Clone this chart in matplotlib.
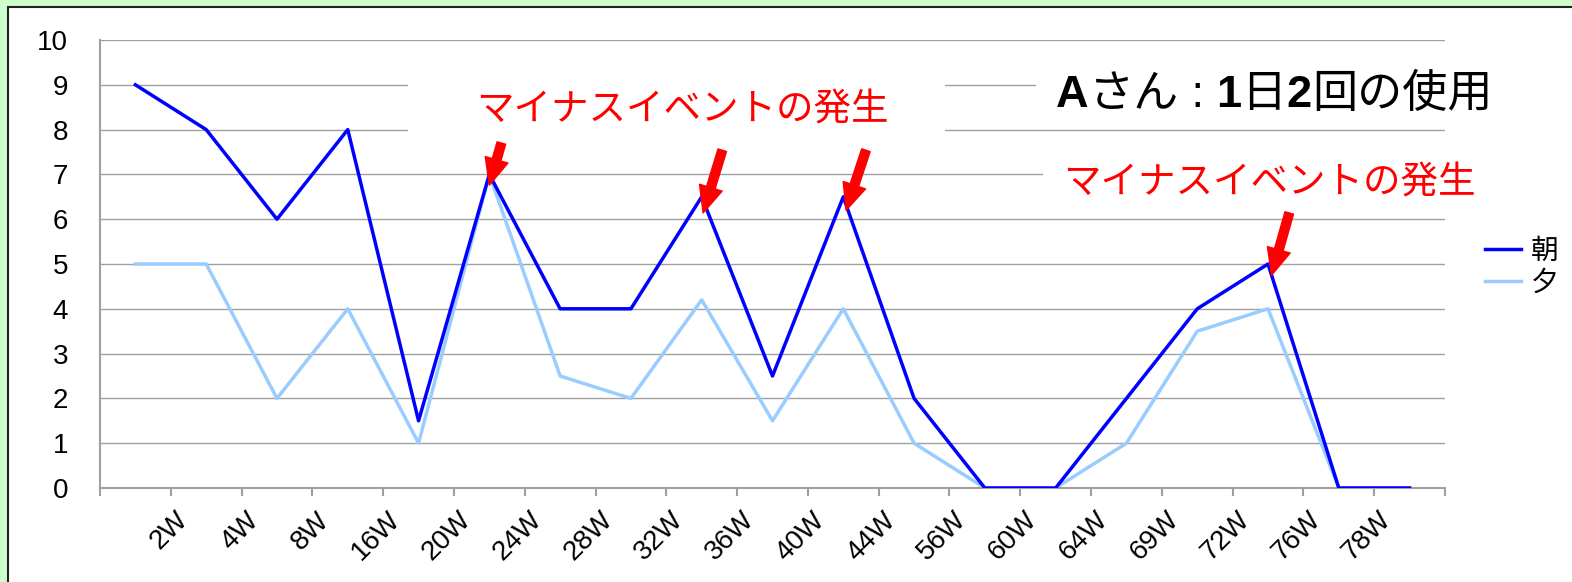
import numpy as np
import matplotlib
matplotlib.use("Agg")
import matplotlib.pyplot as plt
from matplotlib.patches import Rectangle
from matplotlib.transforms import ScaledTranslation

plt.rcParams['font.family'] = ['Liberation Sans', 'Noto Sans CJK JP']

# Data
weeks = ['2W', '4W', '8W', '16W', '20W', '24W', '28W', '32W', '36W',
         '40W', '44W', '56W', '60W', '64W', '69W', '72W', '76W', '78W']
asa = [9, 8, 6, 8, 1.5, 7, 4, 4, 6.5, 2.5, 6.5, 2, 0, 0, 2, 4, 5, 0, 0]
yu = [5, 5, 2, 4, 1, 7, 2.5, 2, 4.2, 1.5, 4, 1, 0, 0, 1, 3.5, 4, 0, 0]
series_names = ['朝', '夕']
event_label = 'マイナスイベントの発生'
title_runs = [('A', 'bold'), ('さん', 'normal'), (' : ', 'normal'), ('1', 'bold'),
              ('日', 'normal'), ('2', 'bold'), ('回の使用', 'normal')]

W, H = 1572, 582
fig = plt.figure(figsize=(W / 100, H / 100), dpi=100)
fig.patch.set_facecolor('#CCFFCC')

# white chart panel with dark border (runs off right/bottom)
fig.add_artist(Rectangle((8 / W, -0.1), 1.2, 1 - 7 / H + 0.1, transform=fig.transFigure,
                         facecolor='white', edgecolor='#222222', lw=1.5, zorder=-1))

ax = fig.add_axes([100 / W, 94 / H, 1345 / W, 448 / H])
ax.set_facecolor('none')

x = np.arange(len(asa))
ax.plot(x, asa, color='#0000FF', lw=2.5, label=series_names[0], zorder=3)
ax.plot(x, yu, color='#99CCFF', lw=2.5, label=series_names[1], zorder=2)

ax.set_xlim(-0.5, len(asa) - 0.5)
ax.set_ylim(0, 10)
ax.set_yticks(range(0, 11))
ax.set_xticks(np.arange(-0.5, len(asa)))
ax.set_xticklabels([''] + weeks + [''])
ax.grid(axis='y', color='#A0A0A0', lw=1)
ax.set_axisbelow(True)
for s in ['top', 'right']:
    ax.spines[s].set_visible(False)
for s in ['left', 'bottom']:
    ax.spines[s].set_color('#A0A0A0')
    ax.spines[s].set_linewidth(1.5)
ax.tick_params(axis='y', length=0, pad=23, labelsize=20)
ax.tick_params(axis='x', length=6, width=1.5, color='#A0A0A0', pad=4, labelsize=20)
shift = ScaledTranslation(0.04, -0.05, fig.dpi_scale_trans)
for lab in ax.get_xticklabels():
    lab.set_rotation(45)
    lab.set_ha('right')
    lab.set_va('top')
    lab.set_rotation_mode('anchor')
    lab.set_transform(lab.get_transform() + shift)

# white boxes behind the text blocks hiding the gridlines
for bx, by, bw, bh in [(0.229, 0.777, 0.399, 0.145),
                       (0.696, 0.817, 0.304, 0.161),
                       (0.701, 0.632, 0.299, 0.100)]:
    ax.add_patch(Rectangle((bx, by), bw, bh, transform=ax.transAxes,
                           facecolor='white', edgecolor='none', zorder=1))

# red arrows pointing at the events
arrows = [((5.0, 6.76), (5.17, 7.7)),
          ((8.02, 6.14), (8.29, 7.54)),
          ((10.04, 6.2), (10.32, 7.54)),
          ((16.05, 4.75), (16.3, 6.14))]
for tip, tail in arrows:
    ax.annotate('', xy=tip, xytext=tail,
                arrowprops=dict(arrowstyle='simple,head_width=0.85,head_length=0.95,tail_width=0.32',
                                color='#FF0000', shrinkA=0, shrinkB=0, mutation_scale=20),
                zorder=5)

fig.text(682 / W, 1 - 110 / H, event_label, color='#FF0000', fontsize=27,
         ha='center', va='center', family=['Noto Sans CJK JP'])
fig.text(1269 / W, 1 - 183 / H, event_label, color='#FF0000', fontsize=27,
         ha='center', va='center', family=['Noto Sans CJK JP'])

# title with mixed weights
renderer = fig.canvas.get_renderer()
tx = 1056
for s, wt in title_runs:
    t = fig.text(tx / W, 1 - 107 / H, s, fontsize=32.5, fontweight=wt, va='baseline')
    tx = t.get_window_extent(renderer).x1

fig.legend(loc='center left', bbox_to_anchor=(1460 / W, 1 - 268 / H), frameon=False,
           fontsize=20, handlelength=1.3, handletextpad=0.35, labelspacing=0.2)

fig.savefig('out.png', dpi=100, facecolor=fig.get_facecolor())
